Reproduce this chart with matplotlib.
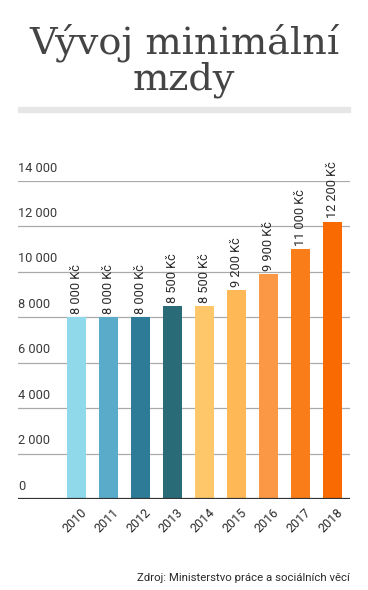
import matplotlib.pyplot as plt
from matplotlib.patches import Rectangle
from matplotlib.transforms import blended_transform_factory

years = ['2010', '2011', '2012', '2013', '2014', '2015', '2016', '2017', '2018']
wages = [8000, 8000, 8000, 8500, 8500, 9200, 9900, 11000, 12200]
wage_labels = ['8 000 Kč', '8 000 Kč', '8 000 Kč', '8 500 Kč', '8 500 Kč',
               '9 200 Kč', '9 900 Kč', '11 000 Kč', '12 200 Kč']
colors = ['#8fd9ea', '#5aabc9', '#2e7b97', '#2a6b78', '#fec86a',
          '#feb956', '#fb9845', '#f97d19', '#f96b02']
yticks = [0, 2000, 4000, 6000, 8000, 10000, 12000, 14000]
ytick_labels = ['0', '2 000', '4 000', '6 000', '8 000', '10 000', '12 000', '14 000']

W, H = 368, 590
fig = plt.figure(figsize=(W / 100, H / 100), dpi=100)
fig.patch.set_facecolor('white')

# title
fig.text(184 / W, 1 - 53 / H, 'Vývoj minimální', ha='center', va='baseline',
         family='DejaVu Serif', fontsize=27.5, color='#444444')
fig.text(184 / W, 1 - 89 / H, 'mzdy', ha='center', va='baseline',
         family='DejaVu Serif', fontsize=27.5, color='#444444')
fig.patches.append(Rectangle((18 / W, 1 - 112 / H), 332 / W, 5 / H,
                             transform=fig.transFigure, color='#e6e6e6', zorder=0))

ax = fig.add_axes([18 / W, 91 / H, 332 / W, 318 / H])
x = list(range(len(years)))
ax.bar(x, wages, width=0.6, color=colors, zorder=3)
ax.set_xlim(-1.828, 8.547)
ax.set_ylim(0, 14000)

for s in ax.spines.values():
    s.set_visible(False)
ax.set_xticks([])
ax.set_yticks([])

for v in yticks[1:]:
    ax.axhline(v, color='#aaaaaa', lw=0.9, zorder=1)
ax.axhline(0, color='#333333', lw=1.6, zorder=4)

tr = blended_transform_factory(ax.transAxes, ax.transData)
for v, lab in zip(yticks, ytick_labels):
    ax.text(0, v + 280, lab, transform=tr, ha='left', va='bottom',
            family='Roboto', fontsize=9.2, color='#3a3a3a')

for xi, v, lab in zip(x, wages, wage_labels):
    ax.text(xi, v + 150, lab, rotation=90, ha='center', va='bottom',
            family='Roboto', fontsize=9.2, color='#2a2a2a', clip_on=False)

for xi, yr in zip(x, years):
    ax.text(xi + 0.12, -300, yr, rotation=45, rotation_mode='anchor',
            ha='right', va='top', family='Roboto', fontsize=9, color='#2a2a2a')

fig.text(350 / W, 1 - 581 / H, 'Zdroj: Ministerstvo práce a sociálních věcí',
         ha='right', va='baseline', family='Roboto', fontsize=8.2,
         color='#2a2a2a')

fig.savefig('out.png', dpi=100)
